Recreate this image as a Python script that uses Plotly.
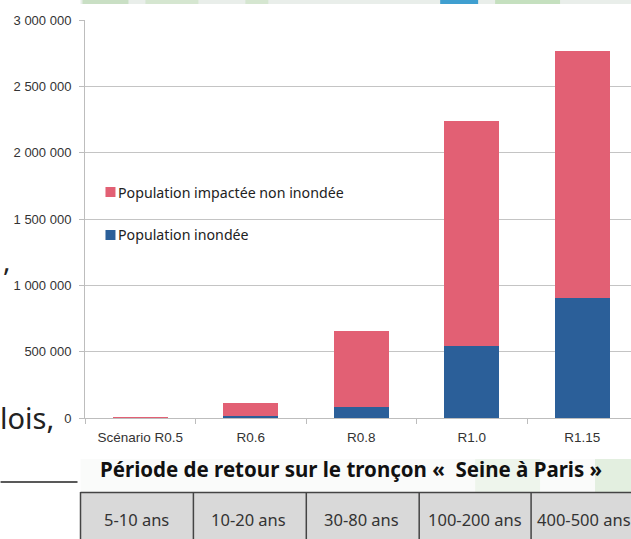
import plotly.graph_objects as go

categories = ["Scénario R0.5", "R0.6", "R0.8", "R1.0", "R1.15"]
inondee = [3000, 15000, 85000, 540000, 905000]
non_inondee = [3000, 100000, 570000, 1700000, 1861000]
y_ticks = [0, 500000, 1000000, 1500000, 2000000, 2500000, 3000000]
y_labels = ["0", "500 000", "1 000 000", "1 500 000", "2 000 000", "2 500 000", "3 000 000"]
table_labels = ["5-10 ans", "10-20 ans", "30-80 ans", "100-200 ans", "400-500 ans"]
table_edges = [80, 193, 304, 419, 531, 636]

W, H = 631, 539
L, T, B = 84.5, 20, 418
px = lambda v: (v - L) / (W - L)
py = lambda v: (B - v) / (B - T)

fig = go.Figure()
fig.add_bar(x=categories, y=inondee, name="Population inondée", marker_color="#2b5f99",
            marker_line_width=0, width=0.5)
fig.add_bar(x=categories, y=non_inondee, name="Population impactée non inondée", marker_color="#e26074",
            marker_line_width=0, width=0.5)

shapes = []
def rect(x0, y0, x1, y1, fill, layer="below"):
    shapes.append(dict(type="rect", xref="paper", yref="paper", x0=px(x0), x1=px(x1), y0=py(y0), y1=py(y1),
                       fillcolor=fill, line=dict(width=0), layer=layer))

def line(x0, y0, x1, y1, color, width):
    shapes.append(dict(type="line", xref="paper", yref="paper", x0=px(x0), x1=px(x1), y0=py(y0), y1=py(y1),
                       line=dict(color=color, width=width)))

# background map fragments, top strip
rect(80, 0, 631, 4, "#e9eeea")
for a, b, c in [(82, 128, "#c9dfc4"), (145, 198, "#d5e6d0"), (245, 268, "#d5e6d0"), (495, 560, "#c5e0bf")]:
    rect(a, 0, b, 4, c)
rect(440, 0, 478, 4, "#3f9fd0")
# bottom strip behind the title
rect(80, 459, 631, 492, "#fafbfa")
rect(475, 459, 540, 492, "#eef5ec")
rect(595, 459, 631, 492, "#e3efe0")
# table
rect(80, 492, 631, 539, "#d9d9d9")
for e in [80, 193, 306, 419, 531]:
    line(e, 492, e, 539, "#444444", 1.5)
line(80, 492.5, 631, 492.5, "#444444", 1.5)
# rule at lower left
line(0, 482, 77, 482, "#222222", 1.5)
# legend swatches
rect(105, 187, 115, 197, "#e26074", "above")
rect(105, 230, 115, 240, "#2b5f99", "above")

ann = []
def text(x, y, s, size, color="#1a1a1a", family="Noto Sans", anchor="center"):
    ann.append(dict(xref="paper", yref="paper", x=px(x), y=py(y), text=s, showarrow=False, xanchor=anchor,
                    yanchor="middle", font=dict(size=size, color=color, family=family)))

text(351, 469, "<b>Période de retour sur le tronçon «  Seine à Paris »</b>", 20.5, "#111111")
for i, lab in enumerate(table_labels):
    text((table_edges[i] + table_edges[i + 1]) / 2, 519, lab, 16.5, "#333333")
text(-3, 417, "lois,", 29, "#222222", "Noto Sans", "left")
text(0, 260, ",", 28, "#222222", "Noto Sans", "left")
text(116, 192, "Population impactée non inondée", 14.2, "#222222", "Noto Sans", "left")
text(116, 235, "Population inondée", 14.2, "#222222", "Noto Sans", "left")

fig.update_layout(
    width=W, height=H, autosize=False, barmode="stack", bargap=0.5,
    paper_bgcolor="white", plot_bgcolor="white",
    margin=dict(l=L, r=0, t=T, b=H - B, pad=0),
    font=dict(family="Liberation Sans", color="#333333", size=11),
    shapes=shapes, annotations=ann,
    showlegend=False,
    xaxis=dict(type="category", range=[-0.5, 4.44], showgrid=False, showline=True, linecolor="#bdbdbd",
               ticks="outside", ticklen=5, tickcolor="#bdbdbd", zeroline=False, tickson="boundaries",
               ticklabelstandoff=7,
               tickfont=dict(family="Liberation Sans", size=13.5, color="#333333")),
    yaxis=dict(range=[0, 3000000], tickvals=y_ticks, ticktext=y_labels, showgrid=True, gridcolor="#c4c4c4",
               gridwidth=1, showline=True, linecolor="#bdbdbd", ticks="outside", ticklen=5, tickcolor="#bdbdbd",
               zeroline=False, ticklabelstandoff=5,
               tickfont=dict(family="Liberation Sans", size=13, color="#333333")),
)
fig.write_html("out.html", post_script="document.body.style.margin='0';", config={"displayModeBar": False})
